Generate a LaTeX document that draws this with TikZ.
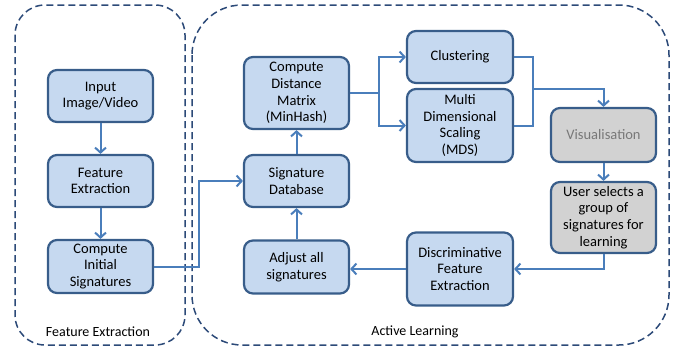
\documentclass[tikz,border=0pt]{standalone}
\usepackage{fontspec}
\setmainfont{Carlito}
\usetikzlibrary{arrows.meta}
\definecolor{boxfill}{RGB}{198,217,240}
\definecolor{boxline}{RGB}{56,93,138}
\definecolor{arrowblue}{RGB}{74,126,187}
\definecolor{greyfill}{RGB}{210,210,210}
\definecolor{greytext}{RGB}{120,120,120}
\definecolor{frameblue}{RGB}{44,74,120}
\tikzset{
  stepbox/.style={draw=boxline, fill=boxfill, line width=2.2pt, rounded corners=9pt,
    minimum width=105pt, align=center, inner sep=1pt,
    font=\fontsize{14.5}{16.7}\selectfont},
  greybox/.style={stepbox, fill=greyfill},
  flow/.style={draw=arrowblue, line width=2pt, -{Straight Barb[length=5pt,width=11pt,line width=2pt]}},
  link/.style={draw=arrowblue, line width=2pt},
  frame/.style={draw=frameblue, line width=1.5pt, dash pattern=on 7pt off 4pt},
  framelabel/.style={font=\fontsize{14}{16}\selectfont}
}
\begin{document}
\begin{tikzpicture}[x=1pt,y=-1pt]
\useasboundingbox (0,0) rectangle (686,349);

% dashed group frames
\draw[frame, rounded corners=30pt] (15,5) rectangle (185,345);
\draw[frame, rounded corners=50pt] (192,5) rectangle (669,345);
\node[framelabel] (felab) at (98,332) {Feature Extraction};
\node[framelabel] (allab) at (415,332) {Active Learning};

% feature extraction column
\node[stepbox, minimum height=52pt] (inp) at (100.5,96) {Input\\Image/Video};
\node[stepbox, minimum height=52pt] (fe) at (100.5,181) {Feature\\Extraction};
\node[stepbox, minimum height=53pt] (cis) at (100.5,266.5) {Compute\\Initial\\Signatures};

% active learning: centre column
\node[stepbox, minimum height=72pt] (cdm) at (296.5,93) {Compute\\Distance\\Matrix\\(MinHash)};
\node[stepbox, minimum height=52pt] (sdb) at (296.5,181) {Signature\\Database};
\node[stepbox, minimum height=53pt] (adj) at (296.5,267) {Adjust all\\signatures};

% active learning: right columns
\node[stepbox, minimum height=52pt, minimum width=106pt] (clu) at (460,57) {Clustering};
\node[stepbox, minimum height=73pt, minimum width=106pt] (mds) at (460,125.5) {Multi\\Dimensional\\Scaling\\(MDS)};
\node[stepbox, minimum height=73pt, minimum width=106pt] (dfe) at (460,269) {Discriminative\\Feature\\Extraction};
\node[greybox, minimum height=54pt, text=greytext] (vis) at (603.5,135) {Visualisation};
\node[greybox, minimum height=71pt] (usr) at (603.5,217.5) {User selects a\\group of\\signatures for\\learning};

% connectors
\draw[flow] (inp) -- (fe);
\draw[flow] (fe) -- (cis);
\draw[flow] (cis.east) -- ++(45,0) |- (sdb.west);
\draw[flow] (adj) -- (sdb);
\draw[flow] (sdb) -- (cdm);
\draw[link] (cdm.east) -- ++(29,0) coordinate (split);
\draw[flow] (split) |- (clu.west);
\draw[flow] (split) |- (mds.west);
\draw[link] (clu.east) -- ++(19,0) coordinate (cturn) -- (cturn |- mds.east) -- (mds.east);
\coordinate (join) at (532,89);
\draw[flow] (join) -| (vis.north);
\draw[flow] (vis) -- (usr);
\draw[flow] (usr.south) |- (dfe.east);
\draw[flow] (dfe.west) -- (dfe.west -| adj.east);
\end{tikzpicture}
\end{document}
